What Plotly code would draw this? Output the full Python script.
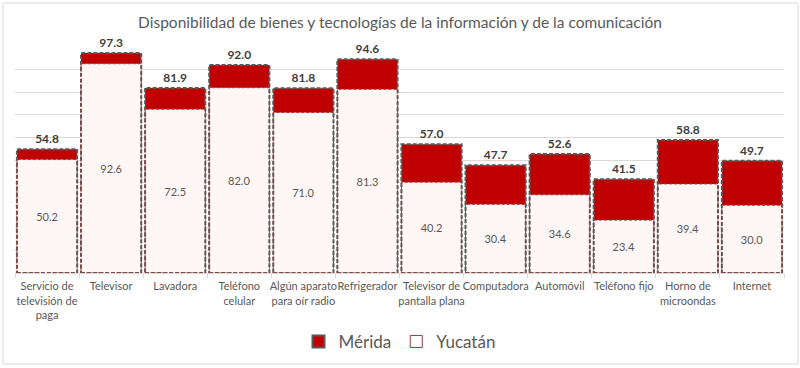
import plotly.graph_objects as go

categories = ["Servicio de<br>televisión de<br>paga", "Televisor", "Lavadora", "Teléfono<br>celular",
              "Algún aparato<br>para oír radio", "Refrigerador", "Televisor de<br>pantalla plana",
              "Computadora", "Automóvil", "Teléfono fijo", "Horno de<br>microondas", "Internet"]
merida = [54.8, 97.3, 81.9, 92.0, 81.8, 94.6, 57.0, 47.7, 52.6, 41.5, 58.8, 49.7]
yucatan = [50.2, 92.6, 72.5, 82.0, 71.0, 81.3, 40.2, 30.4, 34.6, 23.4, 39.4, 30.0]

FONT = "Lato"
RED = "#C00000"
GRAY = "#595959"
PINK = "#FFF6F6"
YBORDER = "#A83838"
BW = 0.94

fig = go.Figure()
fig.add_trace(go.Bar(
    x=categories, y=merida, name="Mérida", showlegend=False, width=BW,
    marker=dict(color=RED, line=dict(width=0)),
    texttemplate="<b>%{y:.1f}</b>", textposition="outside", cliponaxis=False,
    textfont=dict(family=FONT, size=12, color="#404040"),
))
fig.add_trace(go.Bar(
    x=categories, y=yucatan, name="Yucatán", showlegend=False, width=BW,
    marker=dict(color=PINK, line=dict(width=0)),
    texttemplate="%{y:.1f}", textposition="inside", insidetextanchor="middle",
    textangle=0, constraintext="none",
    textfont=dict(family=FONT, size=11, color=GRAY),
))
# legend entries
fig.add_trace(go.Bar(x=[None], y=[None], name="Mérida",
                     marker=dict(color=RED, line=dict(color=GRAY, width=2))))
fig.add_trace(go.Bar(x=[None], y=[None], name="Yucatán",
                     marker=dict(color="#FFFFFF", line=dict(color=YBORDER, width=1))))

shapes = []
for i, v in enumerate(merida):
    shapes.append(dict(type="rect", xref="x", yref="y", x0=i - BW / 2, x1=i + BW / 2, y0=0, y1=v,
                       line=dict(color=GRAY, width=2, dash="4px,2px"), layer="above"))
for i, v in enumerate(yucatan):
    shapes.append(dict(type="rect", xref="x", yref="y", x0=i - BW / 2, x1=i + BW / 2, y0=0, y1=v,
                       line=dict(color=YBORDER, width=1, dash="3px,2px"), layer="above"))
# chart frame
shapes.append(dict(type="rect", xref="paper", yref="paper", x0=-0.0156, x1=1.0182, y0=-0.4027, y1=1.1947,
                   line=dict(color="#D9D9D9", width=1)))

fig.update_layout(
    width=800, height=368,
    margin=dict(l=15, r=16, t=47, b=95, autoexpand=False),
    paper_bgcolor="white", plot_bgcolor="white",
    barmode="overlay",
    title=dict(text="Disponibilidad de bienes y tecnologías de la información y de la comunicación",
               x=0.5, xanchor="center", y=0.938, yanchor="middle",
               font=dict(family=FONT, size=15.5, color=GRAY), automargin=False),
    font=dict(family=FONT, color=GRAY),
    showlegend=True,
    legend=dict(orientation="h", x=0.5, xanchor="center", y=-0.305, yanchor="middle",
                font=dict(family=FONT, size=17, color=GRAY), itemwidth=30),
    shapes=shapes,
)
fig.update_xaxes(type="category", showline=True, linecolor="#D9D9D9", linewidth=1,
                 ticks="outside", tickson="boundaries", ticklen=4, tickcolor="#D9D9D9",
                 tickangle=0, automargin=False, ticklabelstandoff=3,
                 tickfont=dict(family=FONT, size=11, color=GRAY), showgrid=False)
fig.update_yaxes(range=[0, 100], dtick=10, showgrid=True, gridcolor="#D9D9D9", gridwidth=1,
                 showticklabels=False, zeroline=False, showline=False, automargin=False)

fig.write_html("out.html", config={"displayModeBar": False},
               post_script="document.body.style.margin='0';")
